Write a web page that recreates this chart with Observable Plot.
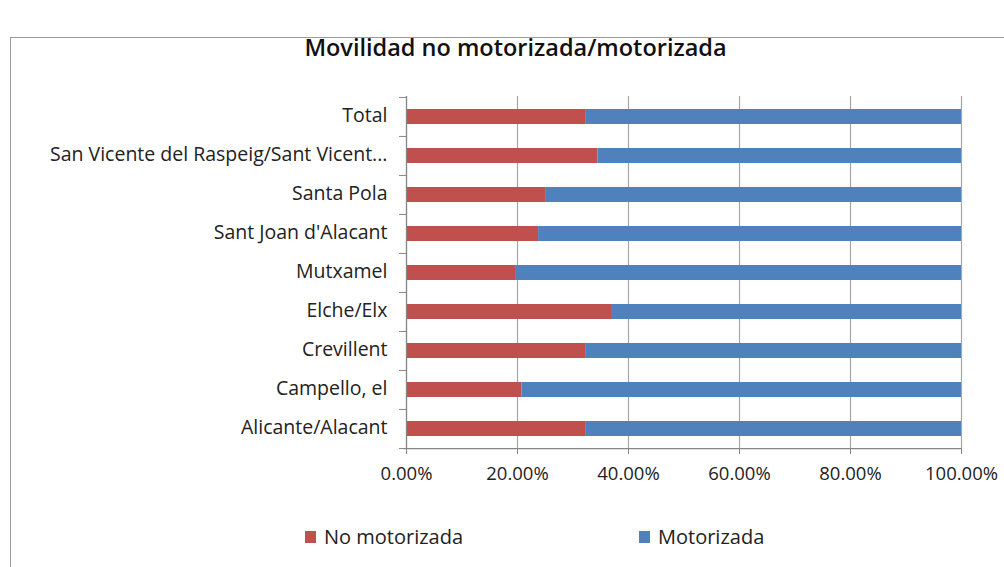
<!DOCTYPE html>
<html>
<head>
<meta charset="utf-8">
<script src="https://cdn.jsdelivr.net/npm/d3@7"></script>
<script src="https://cdn.jsdelivr.net/npm/@observablehq/plot@0.6"></script>
<style>
  html, body { margin: 0; padding: 0; background: #fff; }
  #wrap { position: relative; width: 1004px; height: 567px; overflow: hidden; font-family: "Open Sans", sans-serif; }
  #frame { position: absolute; left: 10px; top: 37px; width: 1010px; height: 560px; border: 1.5px solid #9a9a9a; box-sizing: border-box; }
  #title { position: absolute; left: 0; width: 1031px; top: 31px; text-align: center; font-size: 23.5px; font-weight: 600; color: #111; }
  #chart { position: absolute; left: 0; top: 0; }
  #legend { position: absolute; top: 523px; left: 0; width: 1004px; font-size: 20px; color: #222; }
  .item { position: absolute; display: flex; align-items: center; }
  .sw { width: 11px; height: 12px; margin-right: 8px; }
</style>
</head>
<body>
<div id="wrap">
  <div id="frame"></div>
  <div id="title">Movilidad no motorizada/motorizada</div>
  <div id="chart"></div>
  <div id="legend"></div>
</div>
<script>
const categories = [
  "Total",
  "San Vicente del Raspeig/Sant Vicent...",
  "Santa Pola",
  "Sant Joan d'Alacant",
  "Mutxamel",
  "Elche/Elx",
  "Crevillent",
  "Campello, el",
  "Alicante/Alacant"
];
const seriesNames = ["No motorizada", "Motorizada"];
const noMotorizada = [0.324, 0.345, 0.252, 0.238, 0.198, 0.371, 0.324, 0.208, 0.324];
const motorizada = noMotorizada.map(v => 1 - v);
const colors = ["#C0504D", "#4F81BD"];
const xTicks = [0, 0.2, 0.4, 0.6, 0.8, 1];

const data = [];
categories.forEach((c, i) => {
  data.push({cat: c, serie: seriesNames[0], value: noMotorizada[i]});
  data.push({cat: c, serie: seriesNames[1], value: motorizada[i]});
});

const W = 1004, H = 567;
const mL = 406, mR = 43, mT = 96, mB = 119;
const step = (H - mT - mB) / categories.length;

const chart = Plot.plot({
  width: W, height: H,
  marginLeft: mL, marginRight: mR, marginTop: mT, marginBottom: mB,
  style: {fontFamily: "Open Sans, sans-serif", background: "transparent"},
  x: {domain: [0, 1]},
  y: {domain: categories, paddingInner: 0.62, paddingOuter: 0.31},
  color: {domain: seriesNames, range: colors},
  marks: [
    Plot.gridX(xTicks, {stroke: "#a6a6a6", strokeOpacity: 1, strokeWidth: 1.2}),
    Plot.barX(data, Plot.stackX({y: "cat", x: "value", fill: "serie", order: seriesNames})),
    Plot.axisY({tickSize: 0, tickPadding: 19, fontSize: 19.5, fill: "#222", label: null, textAnchor: "end", dy: -1}),
    Plot.axisY({tickSize: 7, text: null, dy: -step / 2, stroke: "#868686", label: null}),
    Plot.axisY([categories[categories.length - 1]], {tickSize: 7, text: null, dy: step / 2, stroke: "#868686", label: null}),
    Plot.ruleX([0], {stroke: "#868686", strokeWidth: 1.2}),
    Plot.ruleY([categories[categories.length - 1]], {y: d => d, x1: -0.004, x2: 1, dy: step / 2, stroke: "#868686", strokeWidth: 1.2}),
    Plot.axisX(xTicks, {tickSize: 6, tickPadding: 12, stroke: "#868686", fontSize: 18.5, fill: "#222", tickFormat: d => (d * 100).toFixed(2) + "%", label: null})
  ]
});
document.getElementById("chart").appendChild(chart);

const legend = document.getElementById("legend");
const legendX = [305, 639];
seriesNames.forEach((s, i) => {
  const it = document.createElement("div");
  it.className = "item";
  it.style.left = legendX[i] + "px";
  const sw = document.createElement("div");
  sw.className = "sw";
  sw.style.background = colors[i];
  const t = document.createElement("span");
  t.textContent = s;
  it.appendChild(sw); it.appendChild(t);
  legend.appendChild(it);
});
</script>
</body>
</html>
